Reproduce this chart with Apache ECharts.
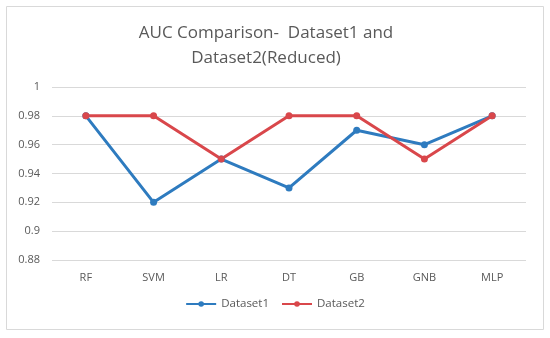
<!DOCTYPE html>
<html><head><meta charset="utf-8">
<script src="https://cdn.jsdelivr.net/npm/echarts@6/dist/echarts.min.js"></script>
<style>html,body{margin:0;padding:0;background:#fff}#c{width:550px;height:338px}</style>
</head><body><div id="c"></div>
<script>
const categories = ['RF','SVM','LR','DT','GB','GNB','MLP'];
const dataset1 = [0.98,0.92,0.95,0.93,0.97,0.96,0.98];
const dataset2 = [0.98,0.98,0.95,0.98,0.98,0.95,0.98];
const yTicks = [0.88,0.9,0.92,0.94,0.96,0.98,1];
const chart = echarts.init(document.getElementById('c'));
const font = 'Open Sans, Liberation Sans, sans-serif';
chart.setOption({
  animation:false,
  graphic:[{type:'rect',shape:{x:6.5,y:6.5,width:537,height:323},style:{fill:'none',stroke:'#d9d9d9',lineWidth:1}}],
  title:{text:'AUC Comparison-  Dataset1 and\nDataset2(Reduced)',left:261,textAlign:'center',top:16,
    textStyle:{color:'#595959',fontSize:17,fontWeight:'normal',fontFamily:font,lineHeight:25}},
  legend:{bottom:23,left:'center',itemWidth:30,itemHeight:7,itemGap:12,
    textStyle:{color:'#595959',fontSize:11.5,fontFamily:font},
    data:['Dataset1','Dataset2']},
  grid:{left:52,right:24,top:87,height:173},
  xAxis:{type:'category',data:categories,boundaryGap:true,
    axisLine:{show:false},axisTick:{show:false},
    axisLabel:{color:'#595959',fontSize:11,fontFamily:font,margin:12}},
  yAxis:{type:'value',min:0.88,max:1,interval:0.02,
    axisLabel:{color:'#595959',fontSize:11,fontFamily:font,margin:12,
      formatter:v=>{const t=yTicks.find(x=>Math.abs(x-v)<1e-9);return t===undefined?'':String(t);}},
    splitLine:{lineStyle:{color:'#d9d9d9',width:1}},axisLine:{show:false},axisTick:{show:false}},
  series:[
    {name:'Dataset1',type:'line',data:dataset1,symbol:'circle',symbolSize:7,
      lineStyle:{color:'#2E7BBF',width:3},itemStyle:{color:'#2E7BBF'}},
    {name:'Dataset2',type:'line',data:dataset2,symbol:'circle',symbolSize:7,
      lineStyle:{color:'#D9474B',width:3},itemStyle:{color:'#D9474B'}}
  ]
});
</script></body></html>
